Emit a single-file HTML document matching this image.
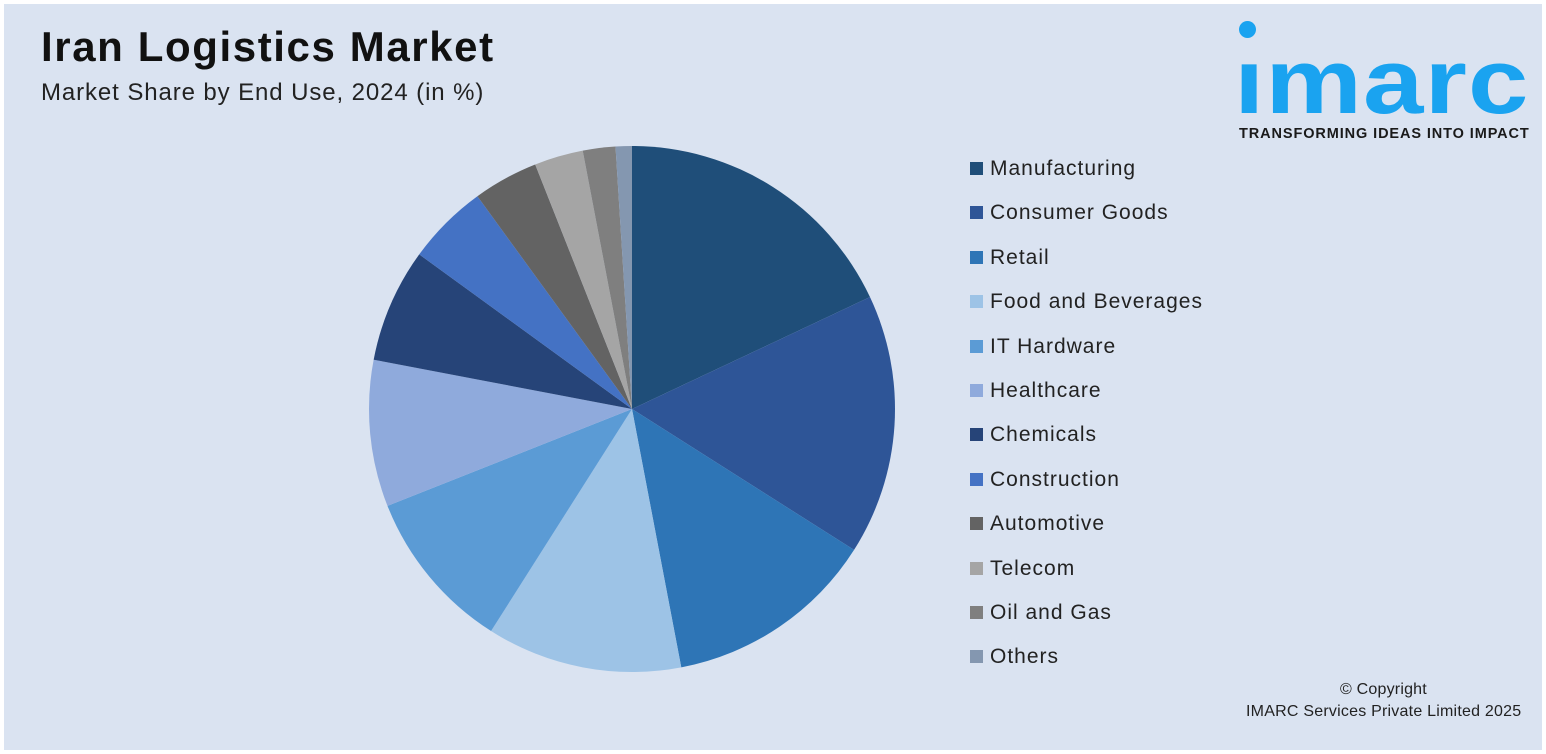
<!DOCTYPE html>
<html><head><meta charset="utf-8"><style>
body{margin:0;width:1546px;height:754px;background:#fff;font-family:"Liberation Sans",sans-serif;overflow:hidden}
#frame{position:absolute;left:4px;top:4px;width:1538px;height:746px;background:#dae3f1}
.t{position:absolute;white-space:nowrap}
</style></head><body>
<div id="frame"></div>
<div class="t" style="left:41px;top:23px;font-size:42px;font-weight:bold;color:#111;letter-spacing:1.6px">Iran Logistics Market</div>
<div class="t" style="left:41px;top:79px;font-size:24px;color:#222;letter-spacing:0.9px">Market Share by End Use, 2024 (in %)</div>
<div class="t" style="left:1236px;top:20px;width:295px;height:125px">
  <div style="position:absolute;left:3px;top:1px;width:17px;height:17px;border-radius:50%;background:#1aa3f0"></div>
  <div style="position:absolute;left:-2px;top:12px;font-size:92px;font-weight:bold;color:#1aa3f0;letter-spacing:1px;line-height:100px;transform:scaleX(1.18);transform-origin:left top">ımarc</div>
  <div style="position:absolute;left:3px;top:106px;font-size:14.5px;font-weight:bold;color:#1a1a1a;letter-spacing:0.9px">TRANSFORMING IDEAS INTO IMPACT</div>
</div>
<svg id="pie" style="position:absolute;left:0;top:0" width="1546" height="754"></svg>
<div id="legend"></div>
<div class="t" style="left:1340px;top:681px;font-size:16px;color:#222;letter-spacing:0.2px">© Copyright</div>
<div class="t" style="left:1246px;top:703px;font-size:16px;color:#222;letter-spacing:0.22px">IMARC Services Private Limited 2025</div>
<script>
const categories=["Manufacturing","Consumer Goods","Retail","Food and Beverages","IT Hardware","Healthcare","Chemicals","Construction","Automotive","Telecom","Oil and Gas","Others"];
const values=[18,16,13,12,10,9,7,5,4,3,2,1];
const colors=["#1f4e79","#2e5597","#2e75b6","#9dc3e6","#5b9bd5","#8faadc","#264478","#4472c4","#636363","#a5a5a5","#7f7f7f","#8497b0"];
const cx=632,cy=409,r=263;
const svg=document.getElementById('pie');
const total=values.reduce((a,b)=>a+b,0);
let acc=0;
function pt(a){return [cx+r*Math.sin(a),cy-r*Math.cos(a)];}
values.forEach((v,i)=>{
  const a0=acc/total*2*Math.PI;acc+=v;const a1=acc/total*2*Math.PI;
  const p0=pt(a0),p1=pt(a1);
  const p=document.createElementNS('http://www.w3.org/2000/svg','path');
  p.setAttribute('d',`M${cx},${cy}L${p0[0]},${p0[1]}A${r},${r} 0 ${a1-a0>Math.PI?1:0} 1 ${p1[0]},${p1[1]}Z`);
  p.setAttribute('fill',colors[i]);
  
  
  svg.appendChild(p);
});
const lg=document.getElementById('legend');
categories.forEach((c,i)=>{
  const d=document.createElement('div');
  d.className='t';
  d.style.cssText=`left:970px;top:${156+i*44.4}px;font-size:21px;color:#222;line-height:26px;letter-spacing:1px`;
  d.innerHTML=`<span style="display:inline-block;width:13px;height:13px;background:${colors[i]};margin-right:7px;vertical-align:0px"></span>${c}`;
  
  
  lg.appendChild(d);
});
</script>
</body></html>
